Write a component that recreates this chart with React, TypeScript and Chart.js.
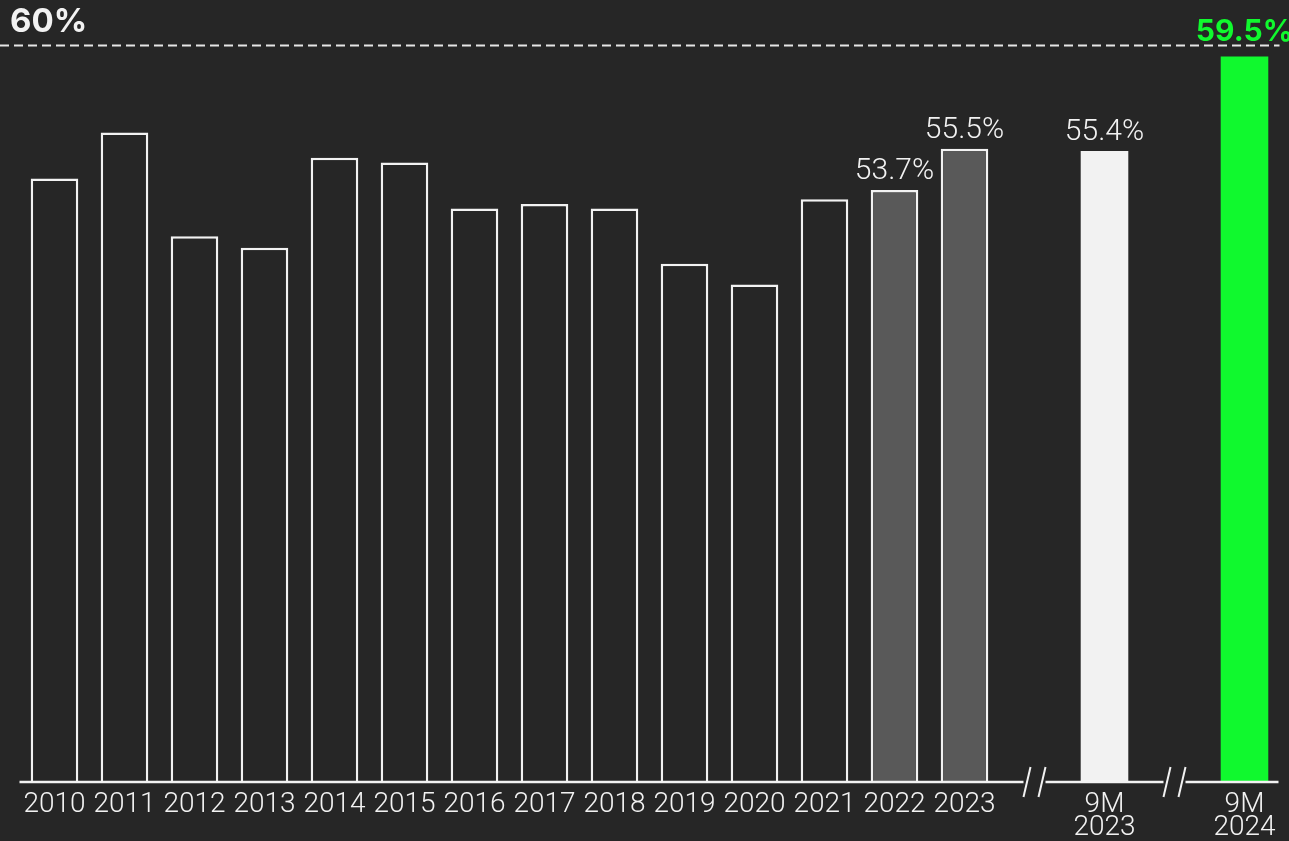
import { useEffect, useRef } from 'react';
import { Chart, registerables } from 'chart.js';

Chart.register(...registerables);

// ---- data ----
const categories: string[] = [
  '2010', '2011', '2012', '2013', '2014', '2015', '2016', '2017', '2018', '2019',
  '2020', '2021', '2022', '2023', 'break1', '9M 2023', 'break2', '9M 2024',
];
const tickLabels: string[][] = [
  ['2010'], ['2011'], ['2012'], ['2013'], ['2014'], ['2015'], ['2016'], ['2017'], ['2018'], ['2019'],
  ['2020'], ['2021'], ['2022'], ['2023'], [], ['9M', '2023'], [], ['9M', '2024'],
];
const values: (number | null)[] = [
  54.2, 56.2, 51.7, 51.2, 55.1, 54.9, 52.9, 53.1, 52.9, 50.5,
  49.6, 53.3, 53.7, 55.5, null, 55.4, null, 59.5,
];
const valueLabels: string[] = [
  '', '', '', '', '', '', '', '', '', '',
  '', '', '53.7%', '55.5%', '', '55.4%', '', '59.5%',
];
const breakCategories: string[] = ['break1', 'break2'];
const referenceValue = 60;
const referenceLabel = '60%';
const yMin = 28;
const yMax = 60;

// ---- styles ----
const BG = '#262626';
const WHITE = '#f2f2f2';
const GREY = '#595959';
const GREEN = '#10f92e';

const fillFor = (i: number) => {
  const c = categories[i];
  if (c === '9M 2024') return GREEN;
  if (c === '9M 2023') return WHITE;
  if (c === '2022' || c === '2023') return GREY;
  return BG;
};
const borderFor = (i: number) => {
  const c = categories[i];
  if (c === '9M 2024') return GREEN;
  return WHITE;
};
const borderWidthFor = (i: number) => (categories[i].startsWith('9M') ? 0 : 2.5);

const decorPlugin = {
  id: 'decor',
  beforeDraw(chart: any) {
    const { ctx, width, height } = chart;
    ctx.save();
    ctx.fillStyle = BG;
    ctx.fillRect(0, 0, width, height);
    ctx.restore();
  },
  afterDatasetsDraw(chart: any) {
    const { ctx, chartArea } = chart;
    const xs = chart.scales.x;
    const ys = chart.scales.y;
    const bottom = chartArea.bottom;
    ctx.save();

    // axis line with breaks
    const breaks = breakCategories.map((b) => xs.getPixelForValue(categories.indexOf(b)));
    const gap = 11;
    let start = chartArea.left;
    ctx.strokeStyle = WHITE;
    ctx.lineWidth = 2.5;
    const segs: [number, number][] = [];
    breaks.forEach((bx) => {
      segs.push([start, bx - gap]);
      start = bx + gap;
    });
    segs.push([start, chartArea.right - 1]);
    segs.forEach(([a, b]) => {
      ctx.beginPath();
      ctx.moveTo(a, bottom);
      ctx.lineTo(b, bottom);
      ctx.stroke();
    });
    // break slashes
    ctx.lineWidth = 2;
    breaks.forEach((bx) => {
      [-7.5, 7.5].forEach((off) => {
        const cx = bx + off;
        ctx.beginPath();
        ctx.moveTo(cx - 3.5, bottom + 15);
        ctx.lineTo(cx + 3.5, bottom - 15);
        ctx.stroke();
      });
    });

    // dashed reference line
    const ry = Math.round(ys.getPixelForValue(referenceValue)) + 0.5;
    ctx.setLineDash([9, 5]);
    ctx.lineWidth = 1.8;
    ctx.strokeStyle = '#e6e6e6';
    ctx.beginPath();
    ctx.moveTo(0, ry);
    ctx.lineTo(chartArea.right, ry);
    ctx.stroke();
    ctx.setLineDash([]);

    ctx.fillStyle = WHITE;
    ctx.font = '700 33px Inter';
    ctx.textAlign = 'left';
    ctx.textBaseline = 'alphabetic';
    ctx.fillText(referenceLabel, 10, ry - 14);

    // value labels
    const meta = chart.getDatasetMeta(0);
    valueLabels.forEach((lab, i) => {
      if (!lab) return;
      const el = meta.data[i];
      if (!el) return;
      ctx.textAlign = 'center';
      if (categories[i] === '9M 2024') {
        ctx.fillStyle = GREEN;
        ctx.font = '700 30px Inter';
        ctx.fillText(lab, el.x, el.y - 16);
      } else {
        ctx.fillStyle = WHITE;
        ctx.font = '300 30px Roboto';
        ctx.fillText(lab, el.x, el.y - 11);
      }
    });

    // x tick labels
    ctx.fillStyle = WHITE;
    ctx.font = '300 28px Roboto';
    ctx.textAlign = 'center';
    tickLabels.forEach((lines, i) => {
      const x = xs.getPixelForValue(i);
      lines.forEach((t, j) => {
        ctx.fillText(t, x, bottom + 30 + j * 23);
      });
    });

    ctx.restore();
  },
};

export default function App() {
  const ref = useRef<HTMLCanvasElement>(null);
  useEffect(() => {
    document.body.style.margin = '0';
    document.body.style.background = BG;
    const chart = new Chart(ref.current as HTMLCanvasElement, {
      type: 'bar',
      data: {
        labels: categories,
        datasets: [
          {
            data: values as any,
            backgroundColor: categories.map((_, i) => fillFor(i)),
            borderColor: categories.map((_, i) => borderFor(i)),
            borderWidth: categories.map((_, i) => borderWidthFor(i)),
            borderSkipped: 'bottom',
            barPercentage: 0.68,
            categoryPercentage: 1,
          },
        ],
      },
      options: {
        responsive: false,
        animation: false,
        devicePixelRatio: 1,
        layout: { padding: { left: 19.5, right: 9.5, top: 45, bottom: 59 } },
        scales: {
          x: { display: false },
          y: { display: false, min: yMin, max: yMax },
        },
        plugins: {
          legend: { display: false },
          tooltip: { enabled: false },
        },
      },
      plugins: [decorPlugin],
    });
    return () => chart.destroy();
  }, []);
  return (
    <canvas
      ref={ref}
      width={1289}
      height={841}
      style={{ display: 'block', width: 1289, height: 841 }}
    />
  );
}
